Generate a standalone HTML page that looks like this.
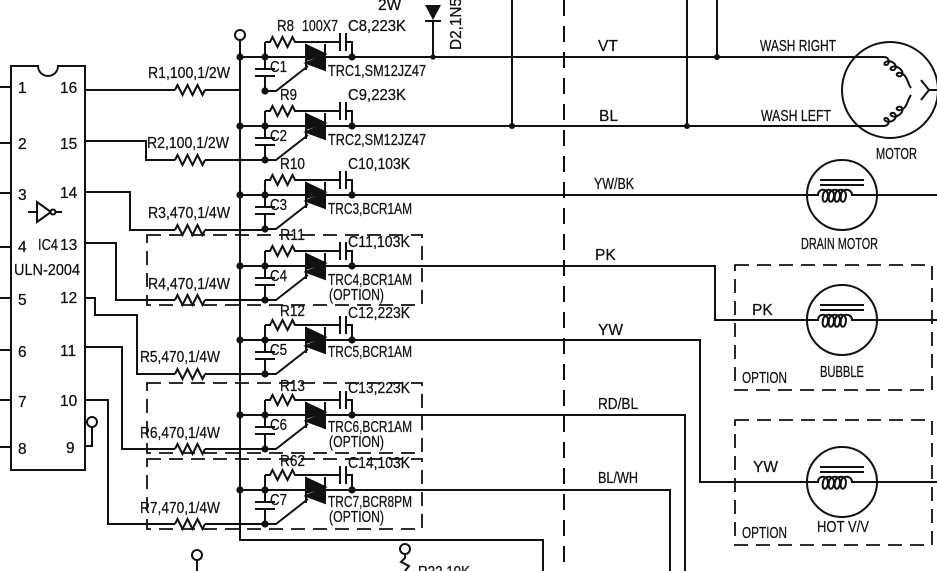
<!DOCTYPE html>
<html><head><meta charset="utf-8"><style>
html,body{margin:0;padding:0;background:#fff}
svg{display:block}
text{font-family:"Liberation Sans",sans-serif;font-size:15.5px;fill:#111;stroke:#111;stroke-width:0.25}
</style></head><body>
<svg width="937" height="571" viewBox="0 0 937 571" xmlns="http://www.w3.org/2000/svg">
<defs>
<g id="row" stroke="#111" stroke-width="2" fill="none">
  <circle cx="0" cy="0" r="2.6" fill="#111"/>
  <circle cx="25" cy="0" r="2.6" fill="#111"/>
  <path d="M25,-15 V12 M15,12 H35 M15,19 H35 M25,19 V34"/>
  <path d="M25,-15 H30 l2.5,-5 l5,10 l5,-10 l5,10 l5,-10 l2.5,5 H100 M100,-24 V-6 M106,-24 V-6 M106,-15 H112 V0"/>
  <circle cx="112" cy="0" r="2.6" fill="#111"/>
  <path d="M66,-13 V13 M85,-13 V13"/>
  <polygon points="66,-12 85,-3 66,3" fill="#111"/>
  <polygon points="85,-2 66,6 85,13" fill="#111"/>
  <path d="M68,9 L36,34 H25"/>
  <circle cx="25" cy="34" r="2.6" fill="#111"/>
</g>
<g id="res" stroke="#111" stroke-width="2" fill="none">
  <path d="M0,0 l2.5,-5 l5,10 l5,-10 l5,10 l5,-10 l5,10 l2.5,-5"/>
</g>
<g id="coil" stroke="#111" stroke-width="2" fill="none">
  <path d="M-22,-15 H22 M-22,-10 H22"/>
  <path d="M-35,0 H-24 c0,-7 10,-7 10,0 c0,9 -7,9 -5,0 c1,-7 11,-7 11,0 c0,9 -7,9 -5,0 c1,-7 11,-7 11,0 c0,9 -7,9 -5,0 c1,-7 11,-7 11,0 c0,9 -7,9 -5,0 c0,-7 11,-7 11,0 H35"/>
</g>
</defs>

<g stroke="#111" stroke-width="2" fill="none">
  <path d="M11,66 H38 A10,10 0 0 0 58,66 H85 V470 H11 Z"/>
  <path d="M0,87 H11 M0,143 H11 M0,193 H11 M0,247 H11 M0,298 H11 M0,350 H11 M0,400 H11 M0,447 H11"/>
  <path d="M28,212 H37 M37,202 V222 L51,212 Z M55,212 H62"/>
  <circle cx="53" cy="212" r="2.5" fill="#fff"/>
  <path d="M85,90 H175 M205,90 H240"/>
  <path d="M85,141 H146 V160 H175 M205,160 H265"/>
  <path d="M85,192 H130 V230 H175 M205,230 H265"/>
  <path d="M85,243 H116 V300 H175 M205,300 H265"/>
  <path d="M85,298 H95 V315 H137 V374 H175 M205,374 H265"/>
  <path d="M85,347 H122 V449 H175 M205,449 H265"/>
  <path d="M85,400 H108 V524 H175 M205,524 H265"/>
  <path d="M85,446 H92 V427"/>
  <circle cx="92" cy="422" r="5"/>
  <circle cx="240" cy="35" r="5"/>
  <path d="M240,40 V540 H543 V571"/>
  <path d="M240,57 H880 M240,126 H880 M240,195 H807 M877,195 H937 M240,266 H715 V320 H807 M877,320 H937 M240,340 H700 V482 H807 M877,482 H937 M240,415 H685 V571 M240,490 H670 V571"/>
  <path d="M433,20 V57 M512,0 V126 M687,0 V126 M717,0 V57"/>
  <path d="M564,0 V571" stroke-dasharray="16,10"/>
  <path d="M425,21 H441"/>
  <circle cx="890" cy="90" r="48"/>
  <circle cx="842" cy="195" r="35"/>
  <circle cx="842" cy="320" r="35"/>
  <circle cx="842" cy="482" r="35"/>
  <path d="M880,57 H884 M880,126 H884 M921,80 L929,90 L921,100 M929,90 H937"/>
  <path d="M884,57 c6,0 6,8 2,8 c-4,0 0,-6 6,-3 c6,3 4,9 0,8 c-4,-1 1,-6 7,-2 c6,4 3,10 -1,8 c-4,-2 2,-6 7,0 c3,4 3,8 6,12"/>
  <path d="M884,126 c6,0 6,-8 2,-8 c-4,0 0,6 6,3 c6,-3 4,-9 0,-8 c-4,1 1,6 7,2 c6,-4 3,-10 -1,-8 c-4,2 2,6 7,0 c3,-4 3,-8 6,-12"/>
  <g stroke-dasharray="14,8" stroke-width="1.8">
    <rect x="147" y="235" width="275" height="70"/>
    <rect x="147" y="383" width="275" height="70"/>
    <rect x="147" y="459" width="275" height="70"/>
    <rect x="735" y="265" width="197" height="125"/>
    <rect x="735" y="420" width="197" height="125"/>
  </g>
  <circle cx="197" cy="555" r="5"/>
  <path d="M197,560 V571"/>
  <circle cx="405" cy="549" r="5"/>
  <path d="M405,554 V558 l-4,4 l8,4 l-4,5"/>
</g>
<polygon points="425,5 441,5 433,20" fill="#111"/>
<circle cx="433" cy="57" r="2.6" fill="#111"/>
<circle cx="512" cy="126" r="3" fill="#111"/>
<circle cx="687" cy="126" r="3" fill="#111"/>
<circle cx="717" cy="57" r="3" fill="#111"/>

<use href="#res" x="175" y="90"/><use href="#res" x="175" y="160"/><use href="#res" x="175" y="230"/>
<use href="#res" x="175" y="300"/><use href="#res" x="175" y="374"/><use href="#res" x="175" y="449"/><use href="#res" x="175" y="524"/>

<use href="#row" x="240" y="57"/><use href="#row" x="240" y="126"/><use href="#row" x="240" y="195"/>
<use href="#row" x="240" y="266"/><use href="#row" x="240" y="340"/><use href="#row" x="240" y="415"/><use href="#row" x="240" y="490"/>

<use href="#coil" x="842" y="195"/><use href="#coil" x="842" y="320"/><use href="#coil" x="842" y="482"/>

<g style="font-size:16px">
<text x="18" y="93">1</text><text x="18" y="149">2</text><text x="18" y="200">3</text><text x="18" y="252">4</text>
<text x="18" y="305">5</text><text x="18" y="357">6</text><text x="18" y="407">7</text><text x="18" y="454">8</text>
<text x="60" y="93">16</text><text x="60" y="149">15</text><text x="60" y="198">14</text><text x="60" y="250">13</text>
<text x="60" y="303">12</text><text x="60" y="356">11</text><text x="60" y="406">10</text><text x="66" y="453">9</text>
</g>
<text x="38" y="250" textLength="20" lengthAdjust="spacingAndGlyphs">IC4</text>
<text x="14" y="275" textLength="66" lengthAdjust="spacingAndGlyphs">ULN-2004</text>

<g>
<text x="148" y="78" textLength="82" lengthAdjust="spacingAndGlyphs">R1,100,1/2W</text>
<text x="147" y="148" textLength="82" lengthAdjust="spacingAndGlyphs">R2,100,1/2W</text>
<text x="148" y="218" textLength="82" lengthAdjust="spacingAndGlyphs">R3,470,1/4W</text>
<text x="148" y="289" textLength="82" lengthAdjust="spacingAndGlyphs">R4,470,1/4W</text>
<text x="140" y="362" textLength="80" lengthAdjust="spacingAndGlyphs">R5,470,1/4W</text>
<text x="140" y="438" textLength="80" lengthAdjust="spacingAndGlyphs">R6,470,1/4W</text>
<text x="140" y="513" textLength="80" lengthAdjust="spacingAndGlyphs">R7,470,1/4W</text>
</g>

<g>
<text x="277" y="31" textLength="17" lengthAdjust="spacingAndGlyphs">R8</text><text x="302" y="31" textLength="36" lengthAdjust="spacingAndGlyphs">100X7</text>
<text x="348" y="31" textLength="58" lengthAdjust="spacingAndGlyphs">C8,223K</text>
<text x="270" y="72" textLength="17" lengthAdjust="spacingAndGlyphs">C1</text><text x="328" y="76" textLength="98" lengthAdjust="spacingAndGlyphs">TRC1,SM12JZ47</text>

<text x="280" y="100" textLength="17" lengthAdjust="spacingAndGlyphs">R9</text><text x="348" y="100" textLength="58" lengthAdjust="spacingAndGlyphs">C9,223K</text>
<text x="270" y="141" textLength="17" lengthAdjust="spacingAndGlyphs">C2</text><text x="328" y="145" textLength="98" lengthAdjust="spacingAndGlyphs">TRC2,SM12JZ47</text>

<text x="280" y="169" textLength="25" lengthAdjust="spacingAndGlyphs">R10</text><text x="348" y="169" textLength="62" lengthAdjust="spacingAndGlyphs">C10,103K</text>
<text x="270" y="210" textLength="17" lengthAdjust="spacingAndGlyphs">C3</text><text x="328" y="214" textLength="84" lengthAdjust="spacingAndGlyphs">TRC3,BCR1AM</text>

<text x="280" y="240" textLength="25" lengthAdjust="spacingAndGlyphs">R11</text><text x="348" y="247" textLength="62" lengthAdjust="spacingAndGlyphs">C11,103K</text>
<text x="270" y="281" textLength="17" lengthAdjust="spacingAndGlyphs">C4</text><text x="328" y="285" textLength="84" lengthAdjust="spacingAndGlyphs">TRC4,BCR1AM</text>
<text x="329" y="300" textLength="55" lengthAdjust="spacingAndGlyphs">(OPTION)</text>

<text x="280" y="316" textLength="25" lengthAdjust="spacingAndGlyphs">R12</text><text x="348" y="318" textLength="62" lengthAdjust="spacingAndGlyphs">C12,223K</text>
<text x="270" y="355" textLength="17" lengthAdjust="spacingAndGlyphs">C5</text><text x="328" y="357" textLength="84" lengthAdjust="spacingAndGlyphs">TRC5,BCR1AM</text>

<text x="280" y="391" textLength="25" lengthAdjust="spacingAndGlyphs">R13</text><text x="348" y="393" textLength="62" lengthAdjust="spacingAndGlyphs">C13,223K</text>
<text x="270" y="430" textLength="17" lengthAdjust="spacingAndGlyphs">C6</text><text x="328" y="432" textLength="84" lengthAdjust="spacingAndGlyphs">TRC6,BCR1AM</text>
<text x="329" y="447" textLength="55" lengthAdjust="spacingAndGlyphs">(OPTION)</text>

<text x="280" y="466" textLength="25" lengthAdjust="spacingAndGlyphs">R62</text><text x="348" y="468" textLength="62" lengthAdjust="spacingAndGlyphs">C14,103K</text>
<text x="270" y="505" textLength="17" lengthAdjust="spacingAndGlyphs">C7</text><text x="328" y="507" textLength="84" lengthAdjust="spacingAndGlyphs">TRC7,BCR8PM</text>
<text x="329" y="522" textLength="55" lengthAdjust="spacingAndGlyphs">(OPTION)</text>
</g>

<text x="378" y="10">2W</text>
<text transform="translate(461,50) rotate(-90)" textLength="52" lengthAdjust="spacingAndGlyphs">D2,1N5</text>

<g>
<text x="598" y="51">VT</text><text x="599" y="121">BL</text>
<text x="594" y="189" textLength="40" lengthAdjust="spacingAndGlyphs">YW/BK</text>
<text x="595" y="260">PK</text><text x="598" y="335">YW</text>
<text x="598" y="409" textLength="40" lengthAdjust="spacingAndGlyphs">RD/BL</text>
<text x="598" y="483" textLength="40" lengthAdjust="spacingAndGlyphs">BL/WH</text>
<text x="760" y="51" textLength="76" lengthAdjust="spacingAndGlyphs">WASH RIGHT</text>
<text x="761" y="121" textLength="70" lengthAdjust="spacingAndGlyphs">WASH LEFT</text>
<text x="876" y="159" textLength="41" lengthAdjust="spacingAndGlyphs">MOTOR</text>
<text x="801" y="249" textLength="77" lengthAdjust="spacingAndGlyphs">DRAIN MOTOR</text>
<text x="752" y="315">PK</text>
<text x="742" y="383" textLength="45" lengthAdjust="spacingAndGlyphs">OPTION</text>
<text x="820" y="377" textLength="44" lengthAdjust="spacingAndGlyphs">BUBBLE</text>
<text x="753" y="472">YW</text>
<text x="742" y="538" textLength="45" lengthAdjust="spacingAndGlyphs">OPTION</text>
<text x="817" y="532" textLength="52" lengthAdjust="spacingAndGlyphs">HOT V/V</text>
<text x="418" y="577" textLength="52" lengthAdjust="spacingAndGlyphs">R22,10K</text>
</g>
</svg>
</body></html>
